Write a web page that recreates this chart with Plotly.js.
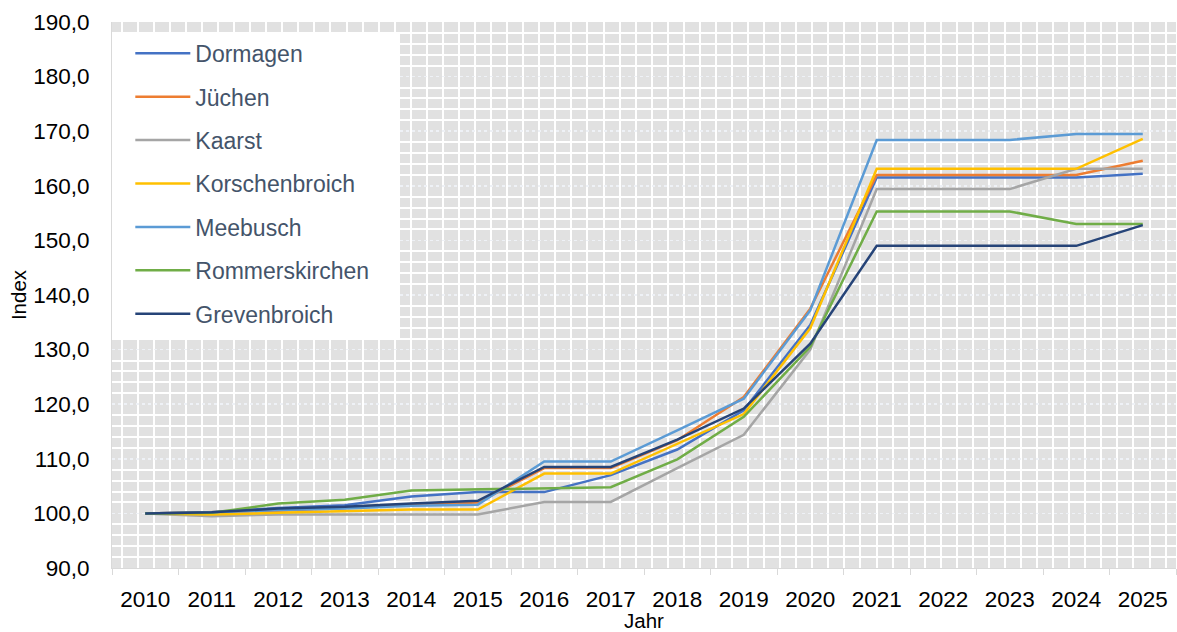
<!DOCTYPE html>
<html>
<head>
<meta charset="utf-8">
<script src="https://cdn.plot.ly/plotly-3.0.1.min.js"></script>
<style>html,body{margin:0;padding:0;background:#fff;}#chart{width:1177px;height:632px;}</style>
</head>
<body>
<div id="chart"></div>
<script>
const years = [2010,2011,2012,2013,2014,2015,2016,2017,2018,2019,2020,2021,2022,2023,2024,2025];
const dormagen       = [100.0,100.2,101.0,101.5,103.1,103.9,103.9,107.0,111.7,118.9,134.5,161.5,161.5,161.5,161.5,162.2];
const juechen        = [100.0,100.2,100.5,101.0,101.6,102.0,108.3,108.3,113.4,121.3,137.5,162.0,162.0,162.0,162.0,164.6];
const kaarst         = [100.0, 99.5, 99.8, 99.8, 99.8, 99.8,102.1,102.1,108.3,114.4,130.0,159.4,159.4,159.4,163.1,163.1];
const korschenbroich = [100.0, 99.8,100.1,100.4,100.7,100.7,107.3,107.3,112.7,118.2,133.9,163.1,163.1,163.1,163.1,168.6];
const meebusch       = [100.0,100.2,100.6,100.9,101.4,101.6,109.5,109.5,115.2,121.0,137.2,168.4,168.4,168.4,169.5,169.5];
const rommerskirchen = [100.0,100.1,101.8,102.5,104.2,104.4,104.6,104.8,109.9,117.7,130.5,155.3,155.3,155.3,153.0,153.0];
const grevenbroich   = [100.0,100.2,100.9,101.2,101.8,102.3,108.5,108.5,113.5,119.2,131.1,149.0,149.0,149.0,149.0,152.8];

const seriesNames  = ["Dormagen","Jüchen","Kaarst","Korschenbroich","Meebusch","Rommerskirchen","Grevenbroich"];
const seriesValues = [dormagen, juechen, kaarst, korschenbroich, meebusch, rommerskirchen, grevenbroich];
const seriesColors = ["#4472c4","#ed7d31","#a5a5a5","#ffc000","#5b9bd5","#70ad47","#264478"];

const xRange = [years[0]-0.5, years[years.length-1]+0.5];

const traces = [
  {x:[years[0]], y:[null], xaxis:'x2', yaxis:'y', type:'scatter', mode:'lines', showlegend:false, hoverinfo:'skip'}
];
seriesNames.forEach((n,i)=>{
  traces.push({
    x: years, y: seriesValues[i], name: n, type:'scatter', mode:'lines',
    line:{color: seriesColors[i], width:2.5}, legendgroup: 'g'+i
  });
});

const layout = {
  width:1177, height:632,
  margin:{l:112, r:1, t:22, b:64},
  paper_bgcolor:'#ffffff',
  plot_bgcolor:'#e1e1e1',
  font:{family:'Arial, "Liberation Sans", sans-serif', color:'#000000'},
  separators:',.',
  showlegend:true,
  legend:{
    x:0.0172, xanchor:'left', y:0.982, yanchor:'top',
    bgcolor:'rgba(255,255,255,0)', borderwidth:0,
    font:{size:23, color:'#44546a'},
    itemwidth:55,
    traceorder:'grouped', tracegroupgap:10.5
  },
  shapes:[{
    type:'rect', xref:'paper', yref:'paper', layer:'above',
    x0:0, x1:0.2707, y0:0.4212, y1:0.9817,
    fillcolor:'#ffffff', line:{width:0}
  }],
  xaxis:{
    type:'linear', range:xRange,
    tickmode:'linear', tick0:years[0], dtick:1, tickformat:'d',
    ticks:'', showgrid:false,
    minor:{tickmode:'linear', tick0:2009.646, dtick:0.2415, showgrid:true,
           gridcolor:'#ffffff', gridwidth:2, griddash:'solid', ticks:''},
    showline:true, linecolor:'#d9d9d9', linewidth:1,
    ticklabelstandoff:11,
    tickfont:{size:22.5, color:'#000000'},
    title:{text:'Jahr', font:{size:20.5}, standoff:5},
    zeroline:false
  },
  xaxis2:{
    overlaying:'x', anchor:'y', side:'bottom', type:'linear', range:xRange,
    tick0:xRange[0], dtick:1, ticks:'outside', ticklen:6, tickcolor:'#d9d9d9', tickwidth:1,
    showgrid:false, showticklabels:false, showline:false, zeroline:false
  },
  yaxis:{
    range:[90,190], dtick:10, tick0:90, tickformat:'.1f',
    showgrid:true, gridcolor:'#eef1f6', gridwidth:1.5, griddash:'dot',
    minor:{dtick:2, showgrid:true, gridcolor:'#ffffff', gridwidth:2, griddash:'solid'},
    showline:true, linecolor:'#d9d9d9', linewidth:1,
    ticks:'', ticklabelstandoff:17,
    tickfont:{size:22.5, color:'#000000'},
    title:{text:'Index', font:{size:20.5}, standoff:1},
    zeroline:false
  }
};

Plotly.newPlot('chart', traces, layout, {displayModeBar:false, staticPlot:true});
</script>
</body>
</html>
